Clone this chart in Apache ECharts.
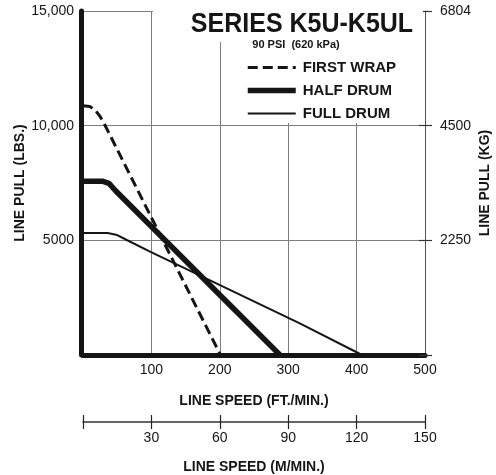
<!DOCTYPE html>
<html><head><meta charset="utf-8">
<script src="https://cdn.jsdelivr.net/npm/echarts@6/dist/echarts.min.js"></script>
<style>html,body{margin:0;padding:0;background:#fff}#c{width:496px;height:475px}</style>
</head><body><div id="c"></div>
<script>
// ---- data ----
const firstWrapSpeed = [0, 10, 18, 25, 32, 201];
const firstWrapPull  = [10870, 10840, 10680, 10400, 10030, 0];
const halfDrumSpeed  = [0, 28, 38, 48, 288];
const halfDrumPull   = [7580, 7580, 7480, 7150, 0];
const fullDrumSpeed  = [0, 36, 50, 64, 98, 317, 408];
const fullDrumPull   = [5320, 5320, 5230, 5015, 4505, 1380, 0];
const ftTicks  = ['', '100', '200', '300', '400', '500'];
const mTicks   = ['', '30', '60', '90', '120', '150'];
const lbsTicks = ['', '5000', '10,000', '15,000'];
const kgTicks  = ['', '2250', '4500', '6804'];
const titleText = 'SERIES K5U-K5UL';
const subText = '90 PSI  (620 kPa)';

const FONT = "'Liberation Sans', Arial, sans-serif";
const INK = '#151515';
const GRID = '#7d7d7d';
const pairs = (xs, ys) => xs.map((x, i) => [x, ys[i]]);

const chart = echarts.init(document.getElementById('c'), null, {renderer: 'canvas'});
chart.setOption({
  animation: false,
  backgroundColor: '#fff',
  grid: {left: 83, right: 71, top: 11, bottom: 120, containLabel: false, outerBoundsMode: 'none'},
  xAxis: [
    {
      type: 'value', min: 0, max: 500, interval: 100, position: 'bottom',
      axisLine: {show: true, onZero: false, lineStyle: {color: INK, width: 5}},
      axisTick: {show: false},
      axisLabel: {margin: 8, fontFamily: FONT, fontSize: 14, color: INK,
        formatter: v => ftTicks[Math.round(v / 100)]},
      splitLine: {show: true, lineStyle: {color: GRID, width: 1}},
      name: 'LINE SPEED (FT./MIN.)', nameLocation: 'middle', nameGap: 39,
      nameTextStyle: {fontFamily: FONT, fontSize: 14, fontWeight: 'bold', color: INK}
    },
    {
      type: 'value', min: 0, max: 150, interval: 30, position: 'bottom', offset: 67,
      axisLine: {show: true, onZero: false, lineStyle: {color: '#333', width: 1.5}},
      axisTick: {show: true, length: 7, lineStyle: {color: '#222', width: 1.2}},
      axisLabel: {margin: 9, fontFamily: FONT, fontSize: 14, color: INK,
        formatter: v => mTicks[Math.round(v / 30)]},
      splitLine: {show: false},
      name: 'LINE SPEED (M/MIN.)', nameLocation: 'middle', nameGap: 38,
      nameTextStyle: {fontFamily: FONT, fontSize: 14, fontWeight: 'bold', color: INK}
    },
    {
      type: 'value', min: 0, max: 150, interval: 30, position: 'bottom', offset: 67,
      axisLine: {show: false, onZero: false},
      axisTick: {show: true, inside: true, length: 7, lineStyle: {color: '#222', width: 1.2}},
      axisLabel: {show: false},
      splitLine: {show: false}
    }
  ],
  yAxis: [
    {
      type: 'value', min: 0, max: 15000, interval: 5000, position: 'left', offset: 2,
      axisLine: {show: true, onZero: false, lineStyle: {color: INK, width: 5}},
      axisTick: {show: false},
      axisLabel: {margin: 7, fontFamily: FONT, fontSize: 14, color: INK,
        formatter: v => lbsTicks[Math.round(v / 5000)]},
      splitLine: {show: true, lineStyle: {color: GRID, width: 1}},
      name: 'LINE PULL (LBS.)', nameLocation: 'middle', nameGap: 54, nameRotate: 90,
      nameMoveOverlap: false,
      nameTextStyle: {fontFamily: FONT, fontSize: 14, fontWeight: 'bold', color: INK}
    },
    {
      type: 'value', min: 0, max: 15000, interval: 5000, position: 'right',
      axisLine: {show: true, onZero: false, lineStyle: {color: '#555', width: 1}},
      axisTick: {show: true, length: 7, lineStyle: {color: '#333', width: 1.2}},
      axisLabel: {margin: 15, fontFamily: FONT, fontSize: 14, color: INK,
        formatter: v => kgTicks[Math.round(v / 5000)]},
      splitLine: {show: false},
      name: 'LINE PULL (KG)', nameLocation: 'middle', nameGap: 53, nameRotate: 90,
      nameMoveOverlap: false,
      nameTextStyle: {fontFamily: FONT, fontSize: 14, fontWeight: 'bold', color: INK}
    },
    {
      type: 'value', min: 0, max: 15000, interval: 5000, position: 'right',
      axisLine: {show: false, onZero: false},
      axisTick: {show: true, inside: true, length: 6, lineStyle: {color: '#333', width: 1.2}},
      axisLabel: {show: false},
      splitLine: {show: false}
    }
  ],
  legend: {
    orient: 'vertical', left: 240, top: 55, itemWidth: 48, itemHeight: 14, itemGap: 8,
    selectedMode: false,
    itemStyle: {opacity: 0, borderWidth: 0},
    lineStyle: {width: 'inherit', type: 'inherit'},
    textStyle: {fontFamily: FONT, fontSize: 15, fontWeight: 'bold', color: INK, padding: [0, 0, 0, 2]},
    data: ['FIRST WRAP', 'HALF DRUM', 'FULL DRUM']
  },
  graphic: [
    {type: 'rect', z: 1, silent: true, shape: {x: 153, y: 9, width: 270, height: 33}, style: {fill: '#fff'}},
    {type: 'rect', z: 1, silent: true, shape: {x: 238, y: 40, width: 185, height: 83}, style: {fill: '#fff'}},
    {type: 'text', z: 3, x: 302, y: 27, scaleY: 1.1, originX: 302, originY: 27,
      style: {text: titleText, font: "bold 25px 'Liberation Sans', Arial, sans-serif", fill: INK,
        align: 'center', verticalAlign: 'middle'}},
    {type: 'text', z: 3, x: 296, y: 45,
      style: {text: subText, font: "bold 11px 'Liberation Sans', Arial, sans-serif", fill: INK,
        align: 'center', verticalAlign: 'middle'}}
  ],
  series: [
    {name: 'FIRST WRAP', type: 'line', xAxisIndex: 0, yAxisIndex: 0, showSymbol: false, symbol: 'none',
      data: pairs(firstWrapSpeed, firstWrapPull), z: 5,
      lineStyle: {color: INK, width: 3, type: [10, 5]}, itemStyle: {color: INK}},
    {name: 'HALF DRUM', type: 'line', xAxisIndex: 0, yAxisIndex: 0, showSymbol: false, symbol: 'none',
      data: pairs(halfDrumSpeed, halfDrumPull), z: 5,
      lineStyle: {color: INK, width: 5.5}, itemStyle: {color: INK}},
    {name: 'FULL DRUM', type: 'line', xAxisIndex: 0, yAxisIndex: 0, showSymbol: false, symbol: 'none',
      data: pairs(fullDrumSpeed, fullDrumPull), z: 5,
      lineStyle: {color: INK, width: 2}, itemStyle: {color: INK}}
  ]
});
</script></body></html>
